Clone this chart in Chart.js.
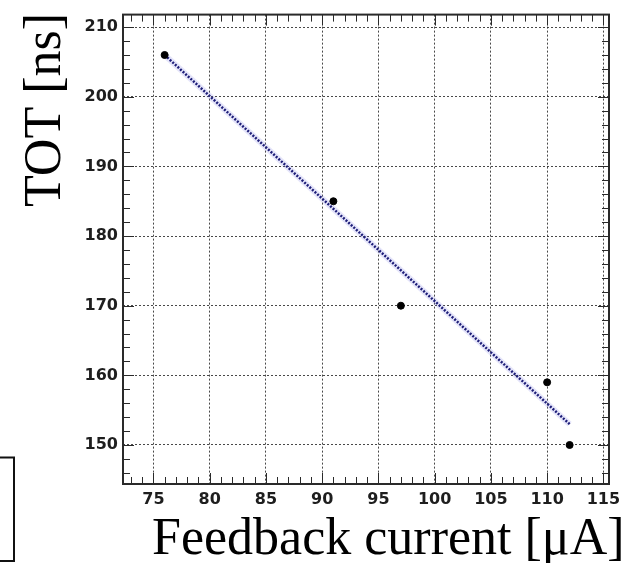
<!DOCTYPE html>
<html>
<head>
<meta charset="utf-8">
<script src="https://cdn.jsdelivr.net/npm/chart.js@4.4.0/dist/chart.umd.min.js"></script>
<style>
html, body { margin: 0; padding: 0; background: #fff; }
#wrap { position: relative; width: 630px; height: 563px; }
</style>
</head>
<body>
<div id="wrap"><canvas id="myChart" width="630" height="563"></canvas></div>
<script>
// data
var current = [76, 91, 97, 110, 112];
var tot = [206, 185, 170, 159, 150];

// fit line end points
var fitCurrent = [76, 112];
var fitTot = [206, 153];

var xTicks = [75, 80, 85, 90, 95, 100, 105, 110, 115];
var yTicks = [150, 160, 170, 180, 190, 200, 210];

var serif = '"Liberation Serif", "Times New Roman", serif';

function pairs(xs, ys) {
    return xs.map(function(x, i) { return {x: x, y: ys[i]}; });
}

function line(ctx, x1, y1, x2, y2) {
    ctx.beginPath();
    ctx.moveTo(x1, y1);
    ctx.lineTo(x2, y2);
    ctx.stroke();
}

// frame, inner ticks, titles
var frame = {
    id: 'frame',
    afterDraw: function(chart) {
        var ctx = chart.ctx, a = chart.chartArea;
        var xs = chart.scales.x, ys = chart.scales.y;
        ctx.save();
        ctx.strokeStyle = '#2a2a2a';
        ctx.lineWidth = 1;
        for (var v = 73; v <= 115; v++) {
            var px = Math.round(xs.getPixelForValue(v)) + 0.5;
            var len = v % 5 === 0 ? 11 : 7;
            line(ctx, px, a.bottom, px, a.bottom - len);
            line(ctx, px, a.top, px, a.top + len);
        }
        for (var w = 146; w <= 210; w += 2) {
            var py = Math.round(ys.getPixelForValue(w)) + 0.5;
            var len2 = w % 10 === 0 ? 11 : 7;
            line(ctx, a.left, py, a.left + len2, py);
            line(ctx, a.right, py, a.right - len2, py);
        }
        ctx.lineWidth = 2;
        ctx.strokeRect(a.left, a.top, a.right - a.left, a.bottom - a.top);

        // piece of a box at the lower left
        ctx.strokeStyle = '#111';
        ctx.strokeRect(-10, 457.5, 24, 103.5);

        ctx.fillStyle = '#000';
        ctx.textBaseline = 'alphabetic';
        ctx.textAlign = 'left';

        // y title
        ctx.save();
        ctx.font = '52px ' + serif;
        ctx.translate(60, 207);
        ctx.rotate(-Math.PI / 2);
        ctx.fillText('TOT [ns]', 0, 0);
        ctx.restore();

        // x title
        ctx.font = '52px ' + serif;
        ctx.fillText('Feedback current [\u03BCA]', 152, 554);

        ctx.restore();
    }
};

var tickFont = {family: '"DejaVu Sans"', size: 16, weight: 'bold'};

var ctx = document.getElementById('myChart').getContext('2d');
var chart = new Chart(ctx, {
    type: 'scatter',
    data: {
        datasets: [{
            label: 'data',
            data: pairs(current, tot),
            backgroundColor: '#000',
            borderColor: '#000',
            pointRadius: 3.5,
            pointHoverRadius: 3.5,
            showLine: false
        },
        {
            label: 'fit',
            data: pairs(fitCurrent, fitTot),
            showLine: true,
            borderColor: '#1e1e78',
            borderWidth: 2.5,
            borderDash: [2, 1.5],
            pointRadius: 0,
            fill: false
        },
        {
            label: 'halo',
            data: pairs(fitCurrent, fitTot),
            showLine: true,
            borderColor: 'rgba(110,110,230,0.18)',
            borderWidth: 6,
            pointRadius: 0,
            fill: false
        }]
    },
    options: {
        responsive: false,
        animation: false,
        devicePixelRatio: 1,
        layout: {padding: {left: 0, top: 14, right: 21, bottom: 0}},
        plugins: {legend: {display: false}, tooltip: {enabled: false}},
        scales: {
            x: {
                type: 'linear',
                min: 72.3,
                max: 115.5,
                afterBuildTicks: function(s) {
                    s.ticks = xTicks.map(function(v) { return {value: v}; });
                },
                afterFit: function(s) { s.height = 79; },
                ticks: {font: tickFont, color: '#1e1e1e', padding: 6, maxRotation: 0, autoSkip: false},
                grid: {color: 'rgba(40,40,40,0.85)', lineWidth: 1, drawTicks: false, borderDash: [2, 2]},
                border: {display: false, dash: [2, 2]}
            },
            y: {
                type: 'linear',
                min: 144.4,
                max: 211.8,
                afterBuildTicks: function(s) {
                    s.ticks = yTicks.map(function(v) { return {value: v}; });
                },
                afterFit: function(s) { s.width = 123; },
                ticks: {font: tickFont, color: '#1e1e1e', padding: 5, autoSkip: false},
                grid: {color: 'rgba(40,40,40,0.85)', lineWidth: 1, drawTicks: false, borderDash: [2, 2]},
                border: {display: false, dash: [2, 2]}
            }
        }
    },
    plugins: [frame]
});
</script>
</body>
</html>
